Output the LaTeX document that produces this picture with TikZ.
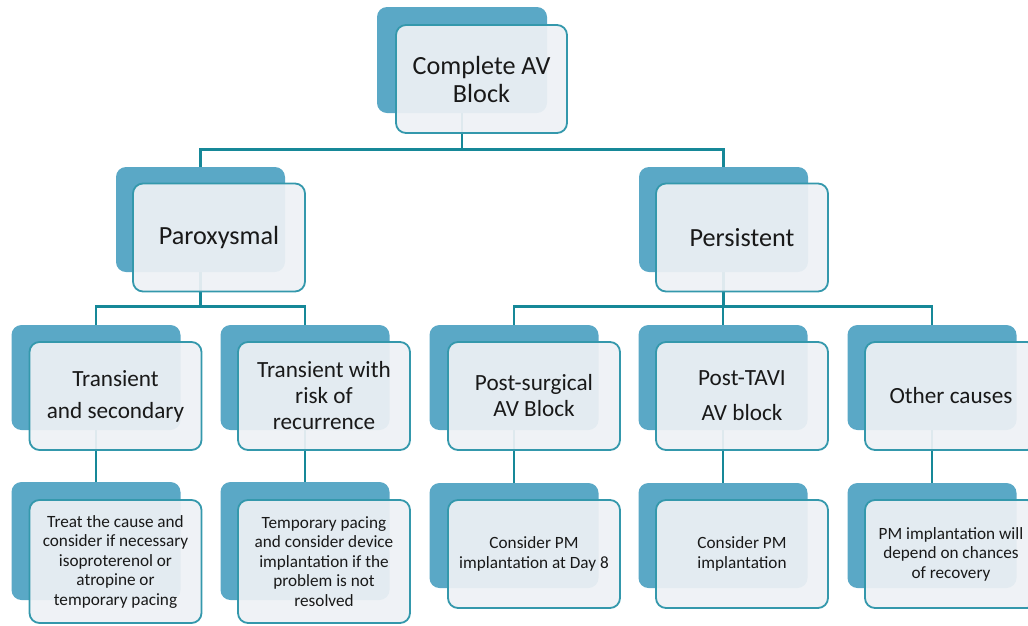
\documentclass[tikz,border=0pt]{standalone}
\usepackage{fontspec}
\setmainfont{Carlito}
\usetikzlibrary{backgrounds}
\definecolor{shadeblue}{RGB}{90,168,198}
\definecolor{cardfill}{RGB}{238,241,245}
\definecolor{cardline}{RGB}{52,152,172}
\definecolor{linkteal}{RGB}{22,136,152}
\definecolor{inktext}{RGB}{25,25,25}
\tikzset{
  backcard/.style={fill=shadeblue, rounded corners=10pt, inner sep=0pt,
    minimum width=169pt, minimum height=105pt},
  frontcard/.style={draw=cardline, line width=1.8pt, fill=cardfill, fill opacity=.93,
    text opacity=1, text=inktext, rounded corners=10pt, inner sep=0pt, align=center,
    minimum width=172pt, minimum height=108pt},
  bigtext/.style={font=\fontsize{26.2}{28}\selectfont},
  midtext/.style={font=\fontsize{23.2}{26}\selectfont},
  smalltext/.style={font=\fontsize{17.2}{19.5}\selectfont},
  link/.style={draw=linkteal, line width=2.6pt}
}
\begin{document}
\begin{tikzpicture}[x=1pt,y=-1pt]
  \useasboundingbox (0,0) rectangle (1028,625);
  % top level
  \node [backcard, minimum width=170pt, minimum height=106pt] (cab-sh) at (462,60) {};
  \node [frontcard, bigtext, minimum width=171pt] (cab) at (481.5,79) {Complete AV\\Block};
  % second level
  \node [backcard] (parox-sh) at (200.5,219.5) {};
  \node [frontcard, bigtext] (parox) at (219,237.5) {Paroxysmal};
  \node [backcard] (persist-sh) at (723.5,219.5) {};
  \node [frontcard, bigtext] (persist) at (742,237.5) {Persistent};
  % third level
  \node [backcard] (trans-sh) at (96,377.5) {};
  \node [frontcard, font=\fontsize{23.2}{32}\selectfont] (trans) at (115.5,396) {Transient\\and secondary};
  \node [backcard] (recur-sh) at (305,377.5) {};
  \node [frontcard, midtext] (recur) at (324,396) {Transient with\\risk of\\recurrence};
  \node [backcard] (surg-sh) at (514,377.5) {};
  \node [frontcard, midtext] (surg) at (534,396) {Post-surgical\\AV Block};
  \node [backcard] (tavi-sh) at (723,377.5) {};
  \node [frontcard, font=\fontsize{23.2}{35}\selectfont] (tavi) at (742,396) {Post-TAVI\\AV block};
  \node [backcard] (other-sh) at (932,377.5) {};
  \node [frontcard, midtext] (other) at (951,396) {Other causes};
  % fourth level
  \node [backcard, minimum height=118pt] (treat-sh) at (96,541) {};
  \node [frontcard, smalltext, minimum height=123pt] (treat) at (115.5,561.5)
    {Treat the cause and\\consider if necessary\\isoproterenol or\\atropine or\\temporary pacing};
  \node [backcard, minimum height=118pt] (pacing-sh) at (305,541) {};
  \node [frontcard, smalltext, minimum height=123pt] (pacing) at (324,561.5)
    {Temporary pacing\\and consider device\\implantation if the\\problem is not\\resolved};
  \node [backcard] (day8-sh) at (514,535.5) {};
  \node [frontcard, smalltext] (day8) at (534,554) {Consider PM\\implantation at Day 8};
  \node [backcard] (pmimpl-sh) at (723,535.5) {};
  \node [frontcard, smalltext] (pmimpl) at (742,554) {Consider PM\\implantation};
  \node [backcard] (recov-sh) at (932,535.5) {};
  \node [frontcard, smalltext] (recov) at (951,554) {PM implantation will\\depend on chances\\of recovery};
  % connectors
  \begin{scope}[on background layer]
    \draw [link] (cab-sh.south) -- ++(0,36) -| (parox-sh.north);
    \draw [link] (cab-sh.south) -- ++(0,36) -| (persist-sh.north);
    \draw [link] (parox-sh.south) -- ++(0,34) -| (trans-sh.north);
    \draw [link] (parox-sh.south) -- ++(0,34) -| (recur-sh.north);
    \draw [link] (persist-sh.south) -- ++(0,34) -| (surg-sh.north);
    \draw [link] (persist-sh.south) -- ++(0,34) -| (tavi-sh.north);
    \draw [link] (persist-sh.south) -- ++(0,34) -| (other-sh.north);
    \draw [link] (trans-sh.south) -- (treat-sh.north);
    \draw [link] (recur-sh.south) -- (pacing-sh.north);
    \draw [link] (surg-sh.south) -- (day8-sh.north);
    \draw [link] (tavi-sh.south) -- (pmimpl-sh.north);
    \draw [link] (other-sh.south) -- (recov-sh.north);
  \end{scope}
\end{tikzpicture}
\end{document}
